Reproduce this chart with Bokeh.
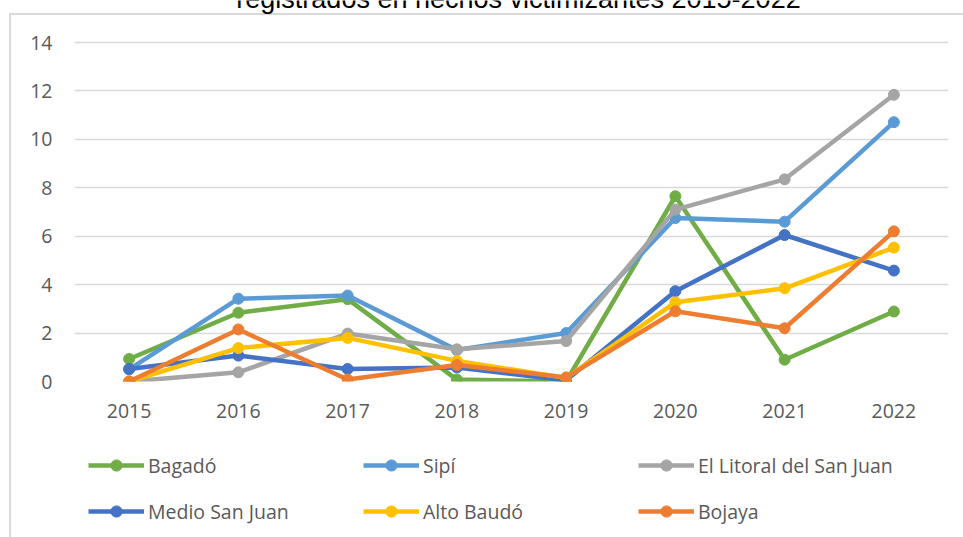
from bokeh.plotting import figure
from bokeh.layouts import column
from bokeh.models import (FactorRange, Range1d, FixedTicker, Legend, LegendItem, Label)
from bokeh.embed import file_html
from bokeh.resources import INLINE

years = ["2015", "2016", "2017", "2018", "2019", "2020", "2021", "2022"]
bagado = [0.93, 2.84, 3.4, 0.08, 0.0, 7.65, 0.9, 2.89]
sipi = [0.5, 3.42, 3.55, 1.3, 2.0, 6.75, 6.6, 10.71]
litoral = [0.0, 0.38, 1.98, 1.33, 1.67, 7.1, 8.35, 11.84]
medio = [0.52, 1.07, 0.52, 0.58, 0.05, 3.73, 6.05, 4.58]
alto = [0.0, 1.38, 1.8, 0.85, 0.15, 3.27, 3.85, 5.53]
bojaya = [0.0, 2.15, 0.08, 0.68, 0.17, 2.9, 2.2, 6.2]

names = ["Bagadó", "Sipí", "El Litoral del San Juan",
         "Medio San Juan", "Alto Baudó", "Bojaya"]
series = [bagado, sipi, litoral, medio, alto, bojaya]
colors = ["#70AD47", "#5B9BD5", "#A5A5A5", "#4472C4", "#FFC000", "#ED7D31"]
y_ticks = [0, 2, 4, 6, 8, 10, 12, 14]
title_text = "registrados en hechos victimizantes 2015-2022"

FONT = "Open Sans"
FSIZE = "19.5px"
TXT = "#595959"
GRAD = "linear-gradient(#D9D9D9,#D9D9D9)"

W = 963
H_MAIN, H_LEG = 440, 97
FRAME_L, FRAME_R, FRAME_B = 74, 948, 381
GRID_TOP = 42  # pixel row of the top tick (14)
px_per_unit = (FRAME_B - GRID_TOP) / 14.0
y_top = FRAME_B / px_per_unit  # frame reaches canvas top so the title can show

main_css = {
    "background-image": GRAD + ", " + GRAD,
    "background-size": "2px 100%, 100% 2px",
    "background-position": "9px 13px, 9px 13px",
    "background-repeat": "no-repeat",
    "background-color": "white",
}
leg_css = {
    "background-image": GRAD,
    "background-size": "2px 100%",
    "background-position": "9px 0px",
    "background-repeat": "no-repeat",
    "background-color": "white",
}

p = figure(width=W, height=H_MAIN,
           x_range=FactorRange(*years, range_padding=0),
           y_range=Range1d(0, y_top),
           output_backend="svg", toolbar_location=None,
           min_border_left=FRAME_L, min_border_right=W - FRAME_R,
           min_border_top=0, min_border_bottom=H_MAIN - FRAME_B,
           styles=main_css)

p.outline_line_color = None
p.background_fill_alpha = 0
p.border_fill_alpha = 0
p.xgrid.visible = False
p.ygrid.grid_line_color = "#D9D9D9"
p.ygrid.grid_line_width = 1.5
p.yaxis.ticker = FixedTicker(ticks=y_ticks)

for ax in (p.xaxis, p.yaxis):
    ax.axis_line_color = None
    ax.major_tick_line_color = None
    ax.minor_tick_line_color = None
    ax.major_tick_out = 0
    ax.major_label_text_font = FONT
    ax.major_label_text_font_size = FSIZE
    ax.major_label_text_color = TXT
p.xaxis.major_label_standoff = 22
p.yaxis.major_label_standoff = 22

# legend strip: same series, drawn outside its visible y range
q = figure(width=W, height=H_LEG, x_range=p.x_range, y_range=Range1d(-200, -100),
           output_backend="svg", toolbar_location=None,
           x_axis_type=None, y_axis_type=None,
           min_border_left=0, min_border_right=0, min_border_top=0, min_border_bottom=0,
           styles=leg_css)
q.outline_line_color = None
q.background_fill_alpha = 0
q.border_fill_alpha = 0
q.grid.visible = False

items = []
for name, vals, col in zip(names, series, colors):
    p.line(years, vals, line_color=col, line_width=4.5)
    p.scatter(years, vals, size=11, fill_color=col, line_color=col)
    r1 = q.line(years, vals, line_color=col, line_width=4.5)
    r2 = q.scatter(years, vals, size=11, fill_color=col, line_color=col)
    items.append(LegendItem(label=name, renderers=[r1, r2]))

GH = 28
def make_legend(its, row_center):
    return Legend(items=its,
                  location=(88 - FRAME_L, H_LEG - (row_center - H_MAIN) - GH // 2),
                  orientation="horizontal",
                  glyph_width=56, glyph_height=GH, label_standoff=4,
                  label_width=210, label_height=GH, spacing=5,
                  padding=0, margin=0, border_line_color=None,
                  background_fill_alpha=0,
                  label_text_font=FONT, label_text_font_size=FSIZE,
                  label_text_color=TXT)

q.add_layout(make_legend(items[:3], 465))
q.add_layout(make_legend(items[3:], 511))

title = Label(x=518 - FRAME_L, y=FRAME_B + 2, x_units="screen", y_units="screen",
              text=title_text, text_font="Liberation Sans",
              text_font_size="27px", text_color="#000000",
              text_align="center", text_baseline="alphabetic")
p.add_layout(title)

layout = column(p, q, spacing=0)
open("out.html", "w").write(file_html(layout, INLINE))
